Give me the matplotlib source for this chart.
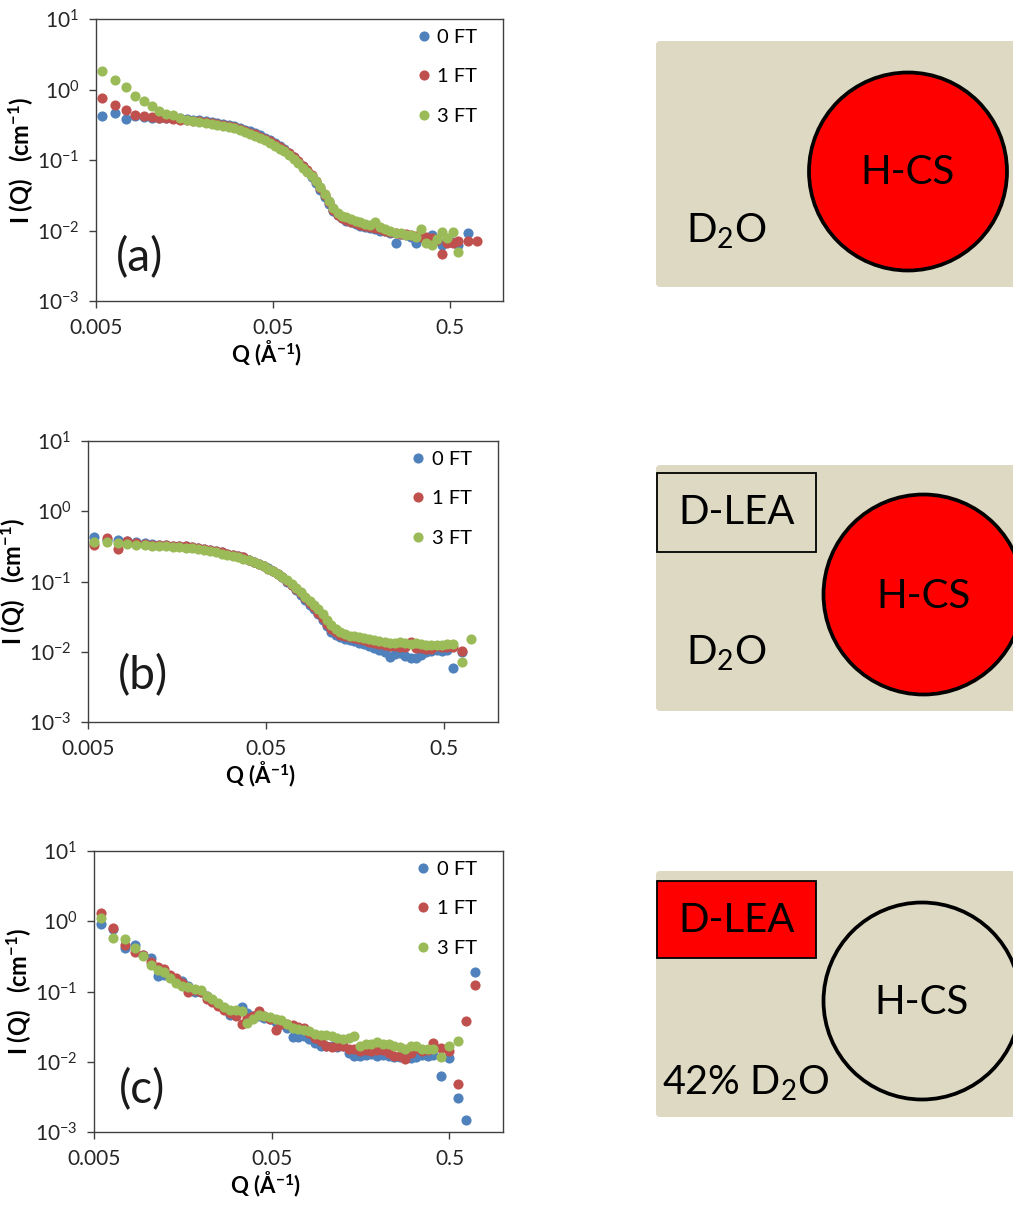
import matplotlib
matplotlib.use("Agg")
import matplotlib.pyplot as plt
from matplotlib.patches import Circle, Rectangle, FancyBboxPatch
from matplotlib.ticker import FixedLocator, FixedFormatter, NullLocator

plt.rcParams['font.family'] = ['Lato', 'DejaVu Sans']
plt.rcParams['mathtext.fontset'] = 'custom'
plt.rcParams['mathtext.rm'] = 'Lato'
plt.rcParams['mathtext.it'] = 'Lato:italic'
plt.rcParams['mathtext.bf'] = 'Lato:bold'

# ---- SANS data, I(Q) in cm^-1 vs Q in 1/A ----

# Q grid shared by panels (a) and (b)
q_ab = [0.0054, 0.0064, 0.0074, 0.0083, 0.0093, 0.0104, 0.0114, 0.0125, 0.0137, 0.0150,
        0.0163, 0.0177, 0.0192, 0.0208, 0.0225, 0.0243, 0.0262, 0.0282, 0.0303, 0.0325,
        0.0348, 0.0372, 0.0398, 0.0425, 0.0453, 0.0483, 0.0514, 0.0547, 0.0581, 0.0617,
        0.0655, 0.0695, 0.0737, 0.0781, 0.0827, 0.0876, 0.0927, 0.0980, 0.1036, 0.110,
        0.116, 0.123, 0.130, 0.138, 0.147, 0.156, 0.166, 0.177, 0.189, 0.202,
        0.216, 0.231, 0.247, 0.264, 0.282, 0.302, 0.323, 0.345, 0.369, 0.395,
        0.423, 0.452, 0.484, 0.52, 0.56, 0.63, 0.71]

# (a) H-CS in D2O
a_0ft = [0.425, 0.46, 0.38, 0.42, 0.41, 0.40, 0.40, 0.40, 0.395, 0.39,
         0.38, 0.375, 0.37, 0.36, 0.345, 0.33, 0.32, 0.31, 0.30, 0.285,
         0.27, 0.255, 0.24, 0.225, 0.205, 0.19, 0.175, 0.158, 0.142, 0.126,
         0.11, 0.095, 0.081, 0.069, 0.058, 0.047, 0.038, 0.030, 0.024, 0.019,
         0.0165, 0.0148, 0.0138, 0.013, 0.0122, 0.0117, 0.0112, 0.011, 0.0105, 0.010,
         0.0098, 0.0093, 0.0066, 0.0088, 0.0085, 0.0082, 0.0066, 0.0080, 0.0076, 0.0086,
         0.0074, 0.0063, 0.0070, 0.0068, 0.0063, 0.0092]
a_1ft = [0.77, 0.60, 0.52, 0.44, 0.42, 0.41, 0.40, 0.39, 0.38, 0.375,
         0.37, 0.36, 0.355, 0.345, 0.33, 0.32, 0.31, 0.30, 0.29, 0.275,
         0.26, 0.245, 0.23, 0.215, 0.20, 0.185, 0.17, 0.155, 0.14, 0.125,
         0.11, 0.096, 0.083, 0.071, 0.061, 0.050, 0.040, 0.032, 0.025, 0.0195,
         0.0165, 0.015, 0.014, 0.0132, 0.0126, 0.012, 0.0115, 0.0112, 0.0108, 0.0104,
         0.0100, 0.0096, 0.0093, 0.0090, 0.0088, 0.0086, 0.0084, 0.0082, 0.0080, 0.0078,
         0.0074, 0.0046, 0.0066, 0.0066, 0.0072, 0.0072, 0.0072]
a_3ft = [1.83, 1.36, 1.07, 0.82, 0.69, 0.58, 0.50, 0.45, 0.43, 0.39,
         0.37, 0.36, 0.35, 0.34, 0.32, 0.31, 0.30, 0.29, 0.28, 0.265,
         0.25, 0.235, 0.22, 0.205, 0.19, 0.175, 0.16, 0.145, 0.132, 0.118,
         0.104, 0.090, 0.078, 0.068, 0.059, 0.051, 0.041, 0.033, 0.026, 0.021,
         0.018, 0.016, 0.0155, 0.0145, 0.0138, 0.013, 0.0125, 0.012, 0.0132, 0.0112,
         0.0105, 0.0098, 0.0092, 0.0092, 0.0087, 0.0085, 0.0082, 0.0105, 0.0067, 0.0063,
         0.0075, 0.0096, 0.0078, 0.0096, 0.0049]

# (b) H-CS with D-LEA in D2O
b_0ft = [0.425, 0.39, 0.39, 0.38, 0.36, 0.35, 0.34, 0.335, 0.33, 0.325,
         0.32, 0.315, 0.31, 0.30, 0.29, 0.28, 0.27, 0.26, 0.25, 0.24,
         0.23, 0.22, 0.205, 0.19, 0.18, 0.167, 0.154, 0.14, 0.127, 0.115,
         0.10, 0.088, 0.076, 0.065, 0.055, 0.047, 0.040, 0.034, 0.028, 0.023,
         0.019, 0.0172, 0.016, 0.015, 0.0145, 0.014, 0.0135, 0.0128, 0.012, 0.0112,
         0.0106, 0.0098, 0.0084, 0.0092, 0.0095, 0.0088, 0.0082, 0.0082, 0.0090, 0.0098,
         0.0102, 0.0105, 0.0103, 0.0105, 0.0059, 0.0099]
b_1ft = [0.33, 0.41, 0.287, 0.375, 0.35, 0.34, 0.335, 0.33, 0.33, 0.325,
         0.32, 0.315, 0.31, 0.30, 0.29, 0.28, 0.27, 0.26, 0.25, 0.24,
         0.23, 0.22, 0.205, 0.19, 0.178, 0.165, 0.152, 0.14, 0.127, 0.115,
         0.102, 0.090, 0.078, 0.068, 0.058, 0.050, 0.043, 0.036, 0.030, 0.025,
         0.021, 0.019, 0.0175, 0.0168, 0.016, 0.0155, 0.015, 0.0145, 0.0138, 0.0132,
         0.0128, 0.0125, 0.0122, 0.012, 0.0118, 0.0116, 0.0136, 0.0114, 0.0112, 0.0108,
         0.0108, 0.0120, 0.0118, 0.0115, 0.0117, 0.0103]
b_3ft = [0.36, 0.36, 0.355, 0.34, 0.33, 0.33, 0.32, 0.32, 0.315, 0.31,
         0.305, 0.30, 0.295, 0.29, 0.28, 0.27, 0.26, 0.25, 0.24, 0.23,
         0.22, 0.21, 0.20, 0.19, 0.178, 0.165, 0.152, 0.14, 0.128, 0.117,
         0.104, 0.092, 0.080, 0.070, 0.061, 0.053, 0.046, 0.040, 0.034, 0.028,
         0.024, 0.021, 0.019, 0.018, 0.017, 0.0165, 0.016, 0.0155, 0.015, 0.0145,
         0.014, 0.0138, 0.0135, 0.0135, 0.0138, 0.0132, 0.013, 0.0135, 0.0128, 0.0126,
         0.0125, 0.0126, 0.0125, 0.013, 0.013, 0.0072, 0.0153]

# (c) H-CS with D-LEA in 42% D2O
q_c = [0.0055, 0.0064, 0.0075, 0.0085, 0.0094, 0.0105, 0.0114, 0.0124, 0.0134, 0.0145,
       0.0157, 0.0170, 0.0184, 0.0199, 0.0215, 0.0232, 0.0250, 0.0270, 0.0291, 0.0314,
       0.0338, 0.0364, 0.0392, 0.0422, 0.0454, 0.0489, 0.0526, 0.0566, 0.0609, 0.0655,
       0.0705, 0.0758, 0.0815, 0.0877, 0.0943, 0.1014, 0.109, 0.117, 0.126, 0.136,
       0.146, 0.157, 0.169, 0.182, 0.196, 0.211, 0.227, 0.244, 0.262, 0.282,
       0.303, 0.326, 0.351, 0.378, 0.406, 0.45, 0.50, 0.56, 0.62, 0.70]
c_0ft = [0.91, 0.78, 0.41, 0.46, 0.33, 0.296, 0.167, 0.17, 0.16, 0.15,
         0.14, 0.12, 0.10, 0.10, 0.085, 0.075, 0.065, 0.058, 0.0465, 0.052,
         0.06, 0.05, 0.045, 0.045, 0.042, 0.04, 0.037, 0.034, 0.03, 0.0228,
         0.0225, 0.023, 0.021, 0.0184, 0.017, 0.0165, 0.0165, 0.016, 0.0165, 0.0135,
         0.0122, 0.0122, 0.0125, 0.013, 0.0122, 0.0125, 0.0122, 0.0118, 0.0115, 0.0112,
         0.0112, 0.0118, 0.0125, 0.0122, 0.0125, 0.0062, 0.0113, 0.0030, 0.00148, 0.191]
c_1ft = [1.30, 0.79, 0.46, 0.37, 0.33, 0.26, 0.226, 0.21, 0.17, 0.154,
         0.13, 0.10, 0.105, 0.10, 0.078, 0.072, 0.062, 0.055, 0.05, 0.045,
         0.035, 0.042, 0.045, 0.052, 0.045, 0.041, 0.0283, 0.035, 0.034, 0.033,
         0.031, 0.030, 0.026, 0.022, 0.020, 0.017, 0.016, 0.017, 0.017, 0.015,
         0.015, 0.014, 0.0145, 0.014, 0.0145, 0.0145, 0.0135, 0.012, 0.012, 0.0109,
         0.0135, 0.0155, 0.014, 0.0145, 0.0187, 0.0158, 0.014, 0.0049, 0.0375, 0.124]
c_3ft = [1.10, 0.57, 0.555, 0.41, 0.32, 0.24, 0.20, 0.19, 0.154, 0.13,
         0.12, 0.117, 0.11, 0.105, 0.085, 0.078, 0.068, 0.06, 0.054, 0.054,
         0.053, 0.036, 0.040, 0.0465, 0.045, 0.044, 0.040, 0.039, 0.034, 0.030,
         0.029, 0.0283, 0.027, 0.025, 0.024, 0.024, 0.023, 0.022, 0.0213, 0.022,
         0.023, 0.017, 0.018, 0.018, 0.019, 0.018, 0.018, 0.017, 0.016, 0.015,
         0.017, 0.017, 0.015, 0.015, 0.015, 0.0115, 0.0165, 0.020]

series_labels = ['0 FT', '1 FT', '3 FT']
series_colors = ['#4F81BD', '#C0504D', '#9BBB59']

x_ticks = [0.005, 0.05, 0.5]
x_ticklabels = ['0.005', '0.05', '0.5']
y_ticks = [1e-3, 1e-2, 1e-1, 1e0, 1e1]
y_ticklabels = ['10$^{-3}$', '10$^{-2}$', '10$^{-1}$', '10$^{0}$', '10$^{1}$']

W, H = 1013, 1205
fig = plt.figure(figsize=(W / 100, H / 100), dpi=100)


def px_axes(left, top, right, bottom):
    return fig.add_axes([left / W, 1 - bottom / H, (right - left) / W, (bottom - top) / H])


def sans_panel(ax, q, series, tag, tag_x, tag_y):
    for vals, col, lab in zip(series, series_colors, series_labels):
        ax.plot(q[:len(vals)], vals, 'o', ms=7.3, color=col, mec='none', label=lab)
    ax.set_xscale('log')
    ax.set_yscale('log')
    ax.set_xlim(0.005, 1.0)
    ax.set_ylim(1e-3, 10)
    ax.xaxis.set_major_locator(FixedLocator(x_ticks))
    ax.xaxis.set_major_formatter(FixedFormatter(x_ticklabels))
    ax.xaxis.set_minor_locator(NullLocator())
    ax.yaxis.set_major_locator(FixedLocator(y_ticks))
    ax.yaxis.set_major_formatter(FixedFormatter(y_ticklabels))
    ax.yaxis.set_minor_locator(NullLocator())
    ax.tick_params(direction='out', length=5, width=1, color='#404040',
                   labelsize=15, labelcolor='#262626', pad=7)
    for sp in ax.spines.values():
        sp.set_color('#404040')
        sp.set_linewidth(1)
    ax.set_xlabel('Q (Å$^{\\mathbf{-1}}$)', fontsize=16, fontweight='bold')
    ax.xaxis.set_label_coords(0.42, -0.135)
    ax.set_ylabel('I (Q)   (cm$^{\\mathbf{-1}}$)', fontsize=17, fontweight='bold')
    ax.yaxis.set_label_coords(-0.15, 0.5)
    ax.legend(loc='upper right', bbox_to_anchor=(0.96, 1.0), frameon=False, fontsize=14.5,
              handlelength=0.7, handletextpad=0.3, labelspacing=1.1, borderaxespad=0.1)
    ax.text(tag_x, tag_y, tag, transform=ax.transAxes, fontsize=33,
            ha='left', va='center', color='#1a1a1a')


ax_a = px_axes(96, 19, 503, 301)
sans_panel(ax_a, q_ab, [a_0ft, a_1ft, a_3ft], '(a)', 0.048, 0.155)
ax_b = px_axes(88, 441, 498, 722)
sans_panel(ax_b, q_ab, [b_0ft, b_1ft, b_3ft], '(b)', 0.072, 0.165)
ax_c = px_axes(94, 851, 503, 1132)
sans_panel(ax_c, q_c, [c_0ft, c_1ft, c_3ft], '(c)', 0.06, 0.15)

# ---- schematics on the right, drawn in pixel units ----
sk = fig.add_axes([0, 0, 1, 1])
sk.set_xlim(0, W)
sk.set_ylim(H, 0)
sk.axis('off')

beige = '#DDD9C3'
red = '#FF0000'

for top in [41, 465, 871]:
    sk.add_patch(FancyBboxPatch((656, top), 380, 246, boxstyle='round,pad=0,rounding_size=4',
                                fc=beige, ec='none'))

# (a)
sk.add_patch(Circle((908, 171.5), 99, fc=red, ec='black', lw=2.7))
sk.text(908, 173, 'H-CS', fontsize=29, ha='center', va='center')
sk.text(686, 243, 'D$_2$O', fontsize=29, ha='left', va='baseline')

# (b)
sk.add_patch(Rectangle((657, 473), 159, 79, fc='none', ec='black', lw=1.3))
sk.text(737, 513, 'D-LEA', fontsize=29, ha='center', va='center')
sk.add_patch(Circle((923.5, 594.5), 100, fc=red, ec='black', lw=2.7))
sk.text(923.5, 597, 'H-CS', fontsize=29, ha='center', va='center')
sk.text(686, 665, 'D$_2$O', fontsize=29, ha='left', va='baseline')

# (c)
sk.add_patch(Rectangle((657, 881), 159, 77, fc=red, ec='black', lw=1.3))
sk.text(737, 920, 'D-LEA', fontsize=29, ha='center', va='center')
sk.add_patch(Circle((922, 1001), 98.5, fc='none', ec='black', lw=2.7))
sk.text(922, 1003, 'H-CS', fontsize=29, ha='center', va='center')
sk.text(662, 1095, '42% D$_2$O', fontsize=28.5, ha='left', va='baseline')

fig.savefig('out.png', dpi=100)
